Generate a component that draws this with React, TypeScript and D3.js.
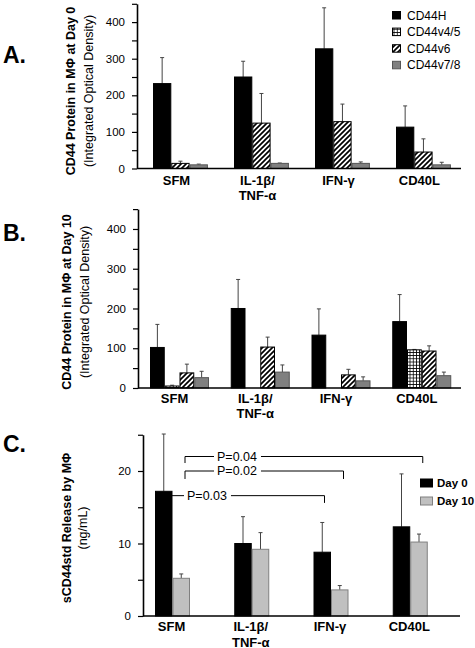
import React, { useEffect, useRef } from "react";
import * as d3 from "d3";

// ---------- data ----------
const categories = ["SFM", "IL-1β/TNF-α", "IFN-γ", "CD40L"];
const categoryLines = [["SFM"], ["IL-1β/", "TNF-α"], ["IFN-γ"], ["CD40L"]];

// Panel A (Day 0), integrated optical density
const aCD44H = [232, 250, 327, 113];
const aCD44HErr = [71, 43, 112, 58];
const aCD44v6 = [14, 124, 128, 45];
const aCD44v6Err = [6, 81, 48, 36];
const aCD44v78 = [10, 14, 14, 10];
const aCD44v78Err = [2, 1, 4, 7];

// Panel B (Day 10)
const bCD44H = [102, 200, 133, 167];
const bCD44HErr = [58, 73, 66, 68];
const bCD44v45 = [5, 0, 0, 96];
const bCD44v45Err = [2, 0, 0, 1];
const bCD44v6 = [38, 103, 33, 93];
const bCD44v6Err = [22, 25, 14, 13];
const bCD44v78 = [26, 40, 18, 31];
const bCD44v78Err = [16, 18, 10, 9];

// Panel C, sCD44std ng/mL
const cDay0 = [17.2, 10.0, 8.8, 12.3];
const cDay0Err = [7.9, 3.7, 4.1, 7.3];
const cDay10 = [5.2, 9.2, 3.6, 10.2];
const cDay10Err = [0.6, 2.3, 0.6, 1.1];

const abTickLabels = [0, 100, 200, 300, 400];
const cTickLabels = [0, 10, 20];

const legendA = ["CD44H", "CD44v4/5", "CD44v6", "CD44v7/8"];
const legendC = ["Day 0", "Day 10"];

const brackets = [
  { label: "P=0.03", from: 0, to: 2, level: 16.6, end: 15.6 },
  { label: "P=0.02", from: 0, to: 2, level: 20.0, end: 18.9 },
  { label: "P=0.04", from: 0, to: 3, level: 22.0, end: 21.1 },
];

// ---------- styles ----------
const FONT = "'Liberation Sans', Arial, Helvetica, sans-serif";
const STYLE: Record<string, { fill: string; stroke: string }> = {
  CD44H: { fill: "#000", stroke: "#000" },
  "CD44v4/5": { fill: "url(#gridPat)", stroke: "#000" },
  CD44v6: { fill: "url(#hatchPat)", stroke: "#000" },
  "CD44v7/8": { fill: "#808080", stroke: "#555" },
  "Day 0": { fill: "#000", stroke: "#000" },
  "Day 10": { fill: "#c0c0c0", stroke: "#808080" },
};

type Series = { name: string; values: number[]; errs: number[] };

type Panel = {
  letter: string;
  letterY: number;
  title1: string;
  title2: string;
  titleX1: number;
  titleX2: number;
  titleCY: number;
  yMax: number;
  yMinorStep: number;
  tickLabels: number[];
  yRange: [number, number];
  xRange: [number, number];
  groupOffset: number;
  barWidth: number;
  series: Series[];
  labelDx: number;
  labelDy: number;
};

const panels: Panel[] = [
  {
    letter: "A.",
    letterY: 63,
    title1: "CD44 Protein in MΦ at Day 0",
    title2: "(Integrated Optical Density)",
    titleX1: 75,
    titleX2: 93,
    titleCY: 91,
    yMax: 450,
    yMinorStep: 50,
    tickLabels: abTickLabels,
    yRange: [168.5, 3.8],
    xRange: [137, 461],
    groupOffset: 16,
    barWidth: 18.3,
    series: [
      { name: "CD44H", values: aCD44H, errs: aCD44HErr },
      { name: "CD44v6", values: aCD44v6, errs: aCD44v6Err },
      { name: "CD44v7/8", values: aCD44v78, errs: aCD44v78Err },
    ],
    labelDx: -4,
    labelDy: 16,
  },
  {
    letter: "B.",
    letterY: 241,
    title1: "CD44 Protein in MΦ at Day 10",
    title2: "(Integrated Optical Density)",
    titleX1: 71,
    titleX2: 89,
    titleCY: 302,
    yMax: 450,
    yMinorStep: 50,
    tickLabels: abTickLabels,
    yRange: [388, 209.1],
    xRange: [138, 461],
    groupOffset: 12,
    barWidth: 14.75,
    series: [
      { name: "CD44H", values: bCD44H, errs: bCD44HErr },
      { name: "CD44v4/5", values: bCD44v45, errs: bCD44v45Err },
      { name: "CD44v6", values: bCD44v6, errs: bCD44v6Err },
      { name: "CD44v7/8", values: bCD44v78, errs: bCD44v78Err },
    ],
    labelDx: -5,
    labelDy: 14.5,
  },
  {
    letter: "C.",
    letterY: 452,
    title1: "sCD44std Release by MΦ",
    title2: "(ng/mL)",
    titleX1: 71,
    titleX2: 87,
    titleCY: 528,
    yMax: 25,
    yMinorStep: 5,
    tickLabels: cTickLabels,
    yRange: [616, 434.75],
    xRange: [143, 460],
    groupOffset: 12,
    barWidth: 17.5,
    series: [
      { name: "Day 0", values: cDay0, errs: cDay0Err },
      { name: "Day 10", values: cDay10, errs: cDay10Err },
    ],
    labelDx: -1,
    labelDy: 15,
  },
];

export default function App() {
  const ref = useRef<SVGSVGElement | null>(null);

  useEffect(() => {
    const svg = d3.select(ref.current);
    svg.selectAll("*").remove();

    const defs = svg.append("defs");
    const hatch = defs
      .append("pattern")
      .attr("id", "hatchPat")
      .attr("patternUnits", "userSpaceOnUse")
      .attr("width", 5)
      .attr("height", 5);
    hatch.append("rect").attr("width", 5).attr("height", 5).attr("fill", "#fff");
    hatch
      .append("path")
      .attr("d", "M-1,1 l2,-2 M0,5 l5,-5 M4,6 l2,-2")
      .attr("stroke", "#000")
      .attr("stroke-width", 1.7);
    const grid = defs
      .append("pattern")
      .attr("id", "gridPat")
      .attr("patternUnits", "userSpaceOnUse")
      .attr("width", 3.2)
      .attr("height", 3.2);
    grid.append("rect").attr("width", 3.2).attr("height", 3.2).attr("fill", "#fff");
    grid
      .append("path")
      .attr("d", "M0,0.4 H3.2 M0.4,0 V3.2")
      .attr("stroke", "#000")
      .attr("stroke-width", 0.8);

    const panelScales: { x: d3.ScaleBand<string>; y: d3.ScaleLinear<number, number>; p: Panel }[] = [];

    panels.forEach((p) => {
      const g = svg.append("g");
      const y = d3.scaleLinear().domain([0, p.yMax]).range(p.yRange);
      const x = d3.scaleBand<string>().domain(categories).range(p.xRange);
      const names = p.series.map((s) => s.name);
      const xi = d3
        .scaleBand<string>()
        .domain(names)
        .range([p.groupOffset, p.groupOffset + p.barWidth * names.length]);
      panelScales.push({ x, y, p });

      // bars
      p.series.forEach((s) => {
        const st = STYLE[s.name];
        const sg = g.append("g");
        s.values.forEach((v, i) => {
          if (v <= 0) return;
          const bx = (x(categories[i]) as number) + (xi(s.name) as number);
          const bw = xi.bandwidth();
          const cx = bx + bw / 2;
          const e = s.errs[i];
          if (e > 0) {
            sg.append("line")
              .attr("x1", cx).attr("x2", cx)
              .attr("y1", y(v)).attr("y2", y(v + e))
              .attr("stroke", "#444").attr("stroke-width", 1);
            sg.append("line")
              .attr("x1", cx - 2).attr("x2", cx + 2)
              .attr("y1", y(v + e)).attr("y2", y(v + e))
              .attr("stroke", "#444").attr("stroke-width", 1);
          }
          sg.append("rect")
            .attr("x", bx + 0.5)
            .attr("y", y(v))
            .attr("width", bw - 1)
            .attr("height", y(0) - y(v))
            .attr("fill", st.fill)
            .attr("stroke", st.stroke)
            .attr("stroke-width", 1);
        });
      });

      // y axis
      const axis = d3
        .axisLeft(y)
        .tickValues(d3.range(0, p.yMax + 0.001, p.yMinorStep))
        .tickSize(5)
        .tickSizeOuter(0)
        .tickPadding(7)
        .tickFormat((d) => (p.tickLabels.includes(+d) ? String(d) : ""));
      const ag = g.append("g").attr("transform", `translate(${p.xRange[0]},0)`).call(axis);
      ag.select(".domain").attr("stroke", "#000").attr("stroke-width", 1.6);
      ag.selectAll(".tick line").attr("stroke", "#000").attr("stroke-width", 1.2);
      ag.selectAll(".tick text")
        .attr("font-family", FONT)
        .attr("font-size", 11.5)
        .attr("fill", "#000");

      // x baseline
      g.append("line")
        .attr("x1", p.xRange[0]).attr("x2", p.xRange[1])
        .attr("y1", y(0)).attr("y2", y(0))
        .attr("stroke", "#000").attr("stroke-width", 1.6);

      // category labels
      categories.forEach((c, i) => {
        const cx = (x(c) as number) + p.groupOffset + (p.barWidth * names.length) / 2 + p.labelDx;
        const t = g
          .append("text")
          .attr("x", cx)
          .attr("y", y(0) + p.labelDy)
          .attr("text-anchor", "middle")
          .attr("font-family", FONT)
          .attr("font-weight", "bold")
          .attr("font-size", 13);
        categoryLines[i].forEach((ln, k) => {
          t.append("tspan").attr("x", cx).attr("dy", k === 0 ? 0 : 15.5).text(ln);
        });
      });

      // panel letter
      g.append("text")
        .attr("x", 3)
        .attr("y", p.letterY)
        .attr("font-family", FONT)
        .attr("font-weight", "bold")
        .attr("font-size", 23)
        .text(p.letter);

      // y titles
      g.append("text")
        .attr("transform", `translate(${p.titleX1},${p.titleCY}) rotate(-90)`)
        .attr("text-anchor", "middle")
        .attr("font-family", FONT)
        .attr("font-weight", "bold")
        .attr("font-size", 12.5)
        .text(p.title1);
      g.append("text")
        .attr("transform", `translate(${p.titleX2},${p.titleCY}) rotate(-90)`)
        .attr("text-anchor", "middle")
        .attr("font-family", FONT)
        .attr("font-size", 12.5)
        .text(p.title2);
    });

    // Legend A
    const lgA = svg.append("g");
    legendA.forEach((n, i) => {
      const cy = 15.3 + i * 16.6;
      lgA.append("rect")
        .attr("x", 392.5).attr("y", cy - 3.8).attr("width", 8).attr("height", 7.5)
        .attr("fill", STYLE[n].fill).attr("stroke", STYLE[n].stroke).attr("stroke-width", 1);
      lgA.append("text")
        .attr("x", 407).attr("y", cy + 4.2)
        .attr("font-family", FONT).attr("font-size", 12).text(n);
    });

    // Legend C
    const lgC = svg.append("g");
    legendC.forEach((n, i) => {
      const cy = 483 + i * 18;
      lgC.append("rect")
        .attr("x", 420.5).attr("y", cy - 4).attr("width", 12).attr("height", 8)
        .attr("fill", STYLE[n].fill).attr("stroke", STYLE[n].stroke).attr("stroke-width", 1);
      lgC.append("text")
        .attr("x", 437).attr("y", cy + 4.2)
        .attr("font-family", FONT).attr("font-weight", "bold").attr("font-size", 11.5).text(n);
    });

    // Significance brackets on panel C
    const { x, y } = panelScales[2];
    const bg = svg.append("g");
    const anchorOff = [23, 42, 42];
    const textStart = [187, 217, 217];
    brackets.forEach((b, i) => {
      const x1 = (x(categories[b.from]) as number) + anchorOff[i];
      const x2 = (x(categories[b.to]) as number) + anchorOff[i];
      const yl = y(b.level);
      const ye = y(b.end);
      const t = bg.append("text")
        .attr("x", textStart[i]).attr("y", yl + 4)
        .attr("font-family", FONT).attr("font-size", 12.5).text(b.label);
      const w = (t.node() as SVGTextElement).getComputedTextLength();
      const path = d3.path();
      path.moveTo(x1, ye);
      path.lineTo(x1, yl);
      path.lineTo(textStart[i] - 3, yl);
      path.moveTo(textStart[i] + w + 4, yl);
      path.lineTo(x2, yl);
      path.lineTo(x2, ye);
      bg.append("path").attr("d", path.toString()).attr("fill", "none")
        .attr("stroke", "#000").attr("stroke-width", 1);
    });
  }, []);

  return (
    <div style={{ position: "absolute", left: 0, top: 0 }}>
      <svg ref={ref} width={475} height={648} style={{ display: "block", background: "#fff" }} />
    </div>
  );
}
